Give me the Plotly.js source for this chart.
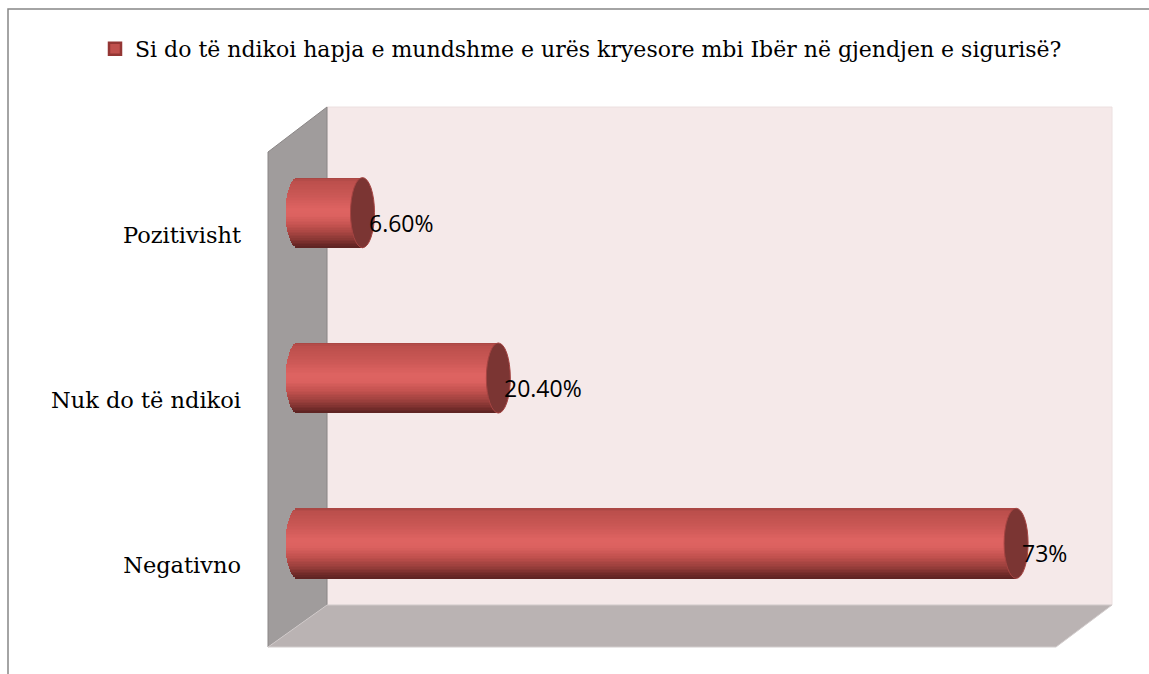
<!DOCTYPE html>
<html>
<head>
<meta charset="utf-8">
<script src="https://cdn.plot.ly/plotly-3.0.1.min.js"></script>
<style>
html,body{margin:0;padding:0;background:#fff;}
#chart{width:1149px;height:674px;}
</style>
</head>
<body>
<div id="chart"></div>
<script>
// ---- data ----
var categories = ['Negativno', 'Nuk do të ndikoi', 'Pozitivisht'];
var values = [73, 20.4, 6.6];
var valueLabels = ['73%', '20.40%', '6.60%'];
var seriesName = 'Si do të ndikoi hapja e mundshme e urës kryesore mbi Ibër në gjendjen e sigurisë?';

// ---- layout geometry ----
var W = 1149, Hh = 674;
var mL = 268, mR = 64, mT = 130, mB = 48;
var PW = W - mL - mR, PH = Hh - mT - mB;
var xMin = -3, xMax = 80;
var pxPerUnit = PW / (xMax - xMin);
function px(x){ return (x - mL) / PW; }
function py(y){ return (mT + PH - y) / PH; }

// cylinder geometry (in data units)
var barH = 0.424;            // bar thickness in category units
var ry = barH / 2;
var rx = 12 / pxPerUnit;     // end-cap horizontal radius

// vertical gradient stops for cylinder body (t from -1 top to +1 bottom)
var stops = [
  [-1.00, [166, 69, 66]],
  [-0.90, [187, 79, 76]],
  [-0.50, [202, 87, 85]],
  [-0.10, [222, 99, 97]],
  [ 0.10, [220, 98, 96]],
  [ 0.40, [192, 80, 77]],
  [ 0.70, [148, 60, 57]],
  [ 0.90, [110, 42, 40]],
  [ 1.00, [ 90, 34, 34]]
];
function colorAt(t){
  for (var i = 0; i < stops.length - 1; i++){
    var a = stops[i], b = stops[i+1];
    if (t >= a[0] && t <= b[0]){
      var f = (t - a[0]) / (b[0] - a[0]);
      var c = [0,1,2].map(function(k){ return Math.round(a[1][k] + (b[1][k]-a[1][k])*f); });
      return 'rgb(' + c.join(',') + ')';
    }
  }
  return 'rgb(90,34,34)';
}

var N = 44;
var bandY = [], bandX = [], bandBase = [], bandW = [], bandC = [];
for (var ci = 0; ci < categories.length; ci++){
  for (var j = 0; j < N; j++){
    var t = -1 + (j + 0.5) * 2 / N;          // -1 top ... +1 bottom
    var half = rx * Math.sqrt(Math.max(0, 1 - t*t));
    var base = -half;
    bandY.push(ci - t * ry);
    bandBase.push(base);
    bandX.push(values[ci] - base);
    bandW.push(barH / N * 1.15);
    bandC.push(colorAt(t));
  }
}

var traces = [
  {
    type: 'bar', orientation: 'h',
    y: bandY, x: bandX, base: bandBase, width: bandW,
    marker: {color: bandC, line: {width: 0}},
    showlegend: false, hoverinfo: 'skip'
  },
  {
    type: 'bar', orientation: 'h',
    x: [null], y: [null],
    name: seriesName,
    marker: {color: '#c0504d', line: {color: '#943634', width: 2.5}},
    showlegend: true, hoverinfo: 'skip'
  }
];

var shapes = [
  // outer chart border
  {type: 'rect', xref: 'paper', yref: 'paper', layer: 'below',
   x0: px(8), x1: px(1160), y0: py(9), y1: py(690),
   line: {color: '#878787', width: 1.5}, fillcolor: 'rgba(0,0,0,0)'},
  // back wall
  {type: 'rect', xref: 'paper', yref: 'paper', layer: 'below',
   x0: px(327), x1: px(1112), y0: py(605), y1: py(107),
   line: {color: '#ece0e0', width: 1}, fillcolor: '#f5e9e9'},
  // left side wall
  {type: 'path', xref: 'paper', yref: 'paper', layer: 'below',
   path: 'M' + px(268) + ',' + py(152) + ' L' + px(327) + ',' + py(107) +
         ' L' + px(327) + ',' + py(605) + ' L' + px(268) + ',' + py(647) + ' Z',
   line: {color: '#8a8686', width: 1}, fillcolor: '#a09c9c'},
  // floor
  {type: 'path', xref: 'paper', yref: 'paper', layer: 'below',
   path: 'M' + px(268) + ',' + py(647) + ' L' + px(327) + ',' + py(605) +
         ' L' + px(1112) + ',' + py(605) + ' L' + px(1056) + ',' + py(647) + ' Z',
   line: {color: '#d2cccc', width: 1}, fillcolor: '#bab3b3'}
];

var annotations = [];
for (var i = 0; i < categories.length; i++){
  // end cap of each cylinder
  shapes.push({
    type: 'circle', xref: 'x', yref: 'y', layer: 'above',
    x0: values[i] - rx, x1: values[i] + rx,
    y0: i - ry, y1: i + ry,
    fillcolor: '#7b3533', line: {color: '#a54442', width: 1}
  });
  annotations.push({
    x: values[i], y: i, xref: 'x', yref: 'y',
    text: valueLabels[i], showarrow: false,
    xanchor: 'left', yanchor: 'middle', xshift: 4, yshift: -10,
    font: {family: 'Open Sans, sans-serif', size: 23, color: '#000'}
  });
}

var layout = {
  width: W, height: Hh,
  margin: {l: mL, r: mR, t: mT, b: mB, pad: 0},
  paper_bgcolor: '#ffffff',
  plot_bgcolor: 'rgba(0,0,0,0)',
  barmode: 'overlay',
  bargap: 0,
  showlegend: true,
  legend: {
    orientation: 'h', xref: 'paper', yref: 'paper',
    x: px(95), y: py(28), xanchor: 'left', yanchor: 'top',
    font: {family: 'DejaVu Serif, serif', size: 22, color: '#000'},
    bgcolor: 'rgba(0,0,0,0)'
  },
  xaxis: {
    range: [xMin, xMax], showgrid: false, zeroline: false,
    showticklabels: false, showline: false, ticks: '', fixedrange: true
  },
  yaxis: {
    range: [-0.5, 2.5], tickmode: 'array',
    tickvals: categories.map(function(c, i){ return i; }),
    ticktext: categories,
    showgrid: false, zeroline: false, showline: false, ticks: '',
    ticklabelshift: 22, ticklabelstandoff: 26,
    tickfont: {family: 'DejaVu Serif, serif', size: 22.5, color: '#000'},
    fixedrange: true
  },
  shapes: shapes,
  annotations: annotations
};

Plotly.newPlot('chart', traces, layout, {displayModeBar: false, staticPlot: true});
</script>
</body>
</html>
